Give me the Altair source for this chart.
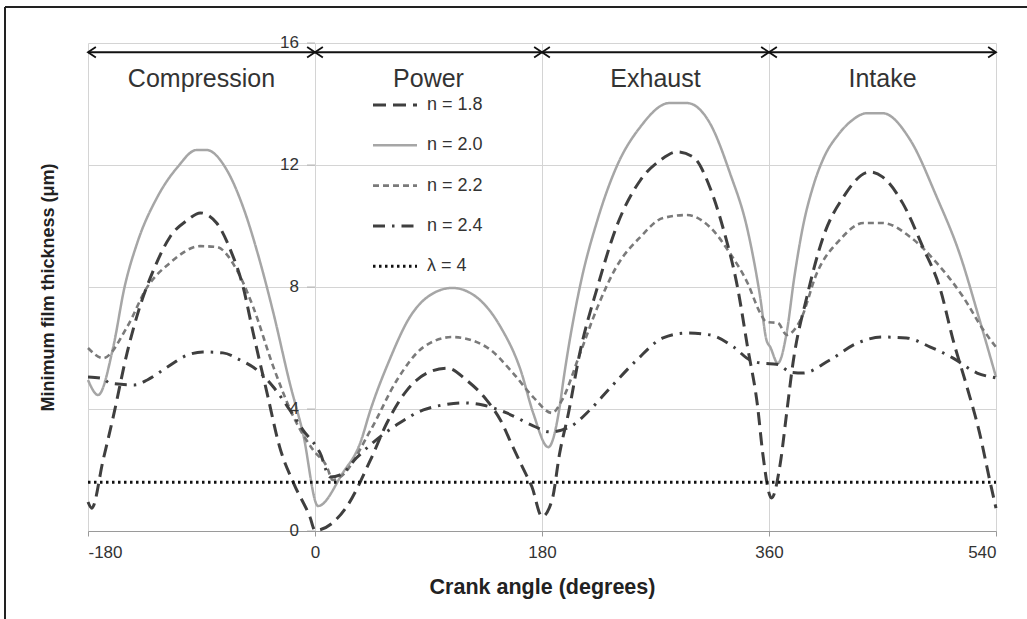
import altair as alt
import pandas as pd

# ---------------- data ----------------
SERIES = ["n = 1.8", "n = 2.0", "n = 2.2", "n = 2.4", "λ = 4"]

ANGLE_N18 = [-180, -177, -168, -160, -149, -139, -128, -115, -101, -91, -78, -67, -57, -49, -38, -28, -17, -4, 0,
             25, 44, 57, 73, 89, 105, 120, 136, 147, 157, 165, 172, 180, 188, 194, 201, 210, 224, 239, 258, 274,
             287, 300, 313, 324, 335, 343, 351, 355, 362, 369, 374, 379, 390, 403, 419, 440, 450, 466, 482, 496,
             506, 517, 527, 535, 540]
FILM_N18 = [0.95, 0.75, 2.33, 3.74, 5.84, 7.34, 8.56, 9.64, 10.2, 10.43, 10.1, 9.21, 8.0, 6.49, 4.52, 2.75, 1.57,
            0.46, 0.02, 0.79, 2.33, 3.54, 4.62, 5.18, 5.34, 4.95, 4.3, 3.64, 2.75, 2.05, 1.45, 0.47, 1.02, 2.55,
            3.87, 5.84, 8.0, 9.97, 11.5, 12.16, 12.43, 12.26, 11.28, 9.87, 8.0, 6.03, 4.07, 2.56, 1.08, 2.23, 3.87,
            5.5, 7.67, 9.64, 10.95, 11.77, 11.61, 10.75, 9.31, 7.9, 6.26, 4.72, 3.21, 1.67, 0.75]

ANGLE_N20 = [-180, -172, -160, -151, -141, -125, -109, -94, -86, -70, -57, -44, -33, -20, -9.5, 2.4, 22, 36, 44,
             59, 75, 94, 109, 128, 147, 163, 173, 185, 194, 197, 210, 224, 239, 258, 281, 295, 313, 329, 343, 353,
             358, 361, 367, 374, 380, 387, 395, 403, 415, 424, 438, 450, 472, 493, 511, 527, 540]
FILM_N20 = [4.95, 4.46, 6.03, 8.0, 9.44, 10.95, 11.93, 12.49, 12.49, 11.84, 10.62, 8.89, 7.15, 4.85, 3.2, 0.82,
            1.9, 2.9, 3.97, 5.6, 7.0, 7.8, 7.97, 7.67, 6.7, 5.28, 3.87, 2.75, 4.07, 4.95, 8.0, 10.2, 11.93, 13.25,
            14.03, 14.03, 13.38, 11.74, 9.87, 7.67, 6.26, 6.03, 5.5, 6.5, 8.3, 10.0, 11.3, 12.2, 13.0, 13.4, 13.7,
            13.7, 12.82, 10.95, 9.11, 6.92, 5.05]

ANGLE_N22 = [-180, -168, -149, -133, -115, -91, -78, -62, -49, -33, -17, -1.6, 9.5, 14, 20, 44, 65, 86, 109, 136,
             157, 173, 188, 196, 210, 224, 239, 258, 276, 295, 313, 329, 343, 353, 358, 367, 374, 385, 398, 416,
             435, 450, 472, 493, 514, 530, 540]
FILM_N22 = [6.0, 5.67, 6.69, 8.0, 8.79, 9.34, 9.31, 8.56, 7.34, 5.38, 3.74, 2.66, 2.1, 1.67, 1.77, 3.3, 4.95, 6.03,
            6.36, 6.03, 5.18, 4.39, 3.87, 4.3, 5.8, 7.34, 8.66, 9.64, 10.26, 10.36, 9.97, 9.11, 8.13, 7.15, 6.85,
            6.82, 6.43, 6.92, 8.46, 9.54, 10.1, 10.1, 9.64, 8.79, 7.67, 6.59, 6.03]

ANGLE_N24 = [-180, -168, -163, -143, -133, -117, -101, -89, -73, -59, -46, -33, -20, -9.5, 4, 12, 20, 33, 46, 67,
             86, 101, 117, 133, 152, 173, 186, 202, 218, 234, 255, 276, 295, 313, 332, 345, 355, 366, 378, 387,
             408, 430, 450, 469, 488, 506, 525, 540]
FILM_N24 = [5.05, 5.0, 4.85, 4.79, 4.95, 5.38, 5.77, 5.87, 5.84, 5.6, 5.28, 4.72, 3.97, 3.31, 2.56, 1.77, 1.84,
            2.4, 2.9, 3.54, 3.97, 4.13, 4.2, 4.13, 3.87, 3.45, 3.25, 3.41, 3.97, 4.69, 5.6, 6.33, 6.49, 6.43, 6.03,
            5.6, 5.5, 5.47, 5.2, 5.18, 5.6, 6.16, 6.36, 6.33, 6.03, 5.67, 5.18, 5.02]

ANGLE_LAMBDA = [-180, 540]
FILM_LAMBDA = [1.6, 1.6]

PHASES = ["Compression", "Power", "Exhaust", "Intake"]
PHASE_EDGES = [-180, 0, 180, 360, 540]
PHASE_ARROW_Y = 15.7
PHASE_LABEL_Y = 14.55

X_TICKS = [-180, 0, 180, 360, 540]
Y_TICKS = [0, 4, 8, 12, 16]

# ---------------- styling ----------------
FONT = "Liberation Sans"
TXT = "#333333"
GRID = "#d4d4d4"
W, H = 908, 488

STYLE = {
    "n = 1.8": dict(color="#3f3f3f", strokeDash=[13, 7], strokeWidth=3.0),
    "n = 2.0": dict(color="#a6a6a6", strokeDash=[1, 0], strokeWidth=2.5),
    "n = 2.2": dict(color="#7a7a7a", strokeDash=[6, 4], strokeWidth=2.6),
    "n = 2.4": dict(color="#3f3f3f", strokeDash=[12, 7, 2.5, 7], strokeWidth=3.0),
    "λ = 4": dict(color="#111111", strokeDash=[2.5, 3.5], strokeWidth=3.0),
}
DATA = {
    "n = 1.8": (ANGLE_N18, FILM_N18),
    "n = 2.0": (ANGLE_N20, FILM_N20),
    "n = 2.2": (ANGLE_N22, FILM_N22),
    "n = 2.4": (ANGLE_N24, FILM_N24),
    "λ = 4": (ANGLE_LAMBDA, FILM_LAMBDA),
}

XS = alt.Scale(domain=[-180, 540], nice=False, zero=False)
YS = alt.Scale(domain=[0, 16], nice=False)

XA = alt.Axis(values=X_TICKS, grid=True, gridColor=GRID, gridWidth=1, labelExpr="'' + datum.value",
              domainColor="#9a9a9a", domainWidth=1.2, tickColor="#9a9a9a", tickSize=5,
              labelFont=FONT, labelFontSize=17, labelColor=TXT, labelPadding=8,
              title="Crank angle (degrees)", titleFont=FONT, titleFontSize=21.5, titleFontWeight="bold",
              titleColor="#222222", titleX=W / 2, titleY=62, titleAlign="center", titleBaseline="alphabetic")
YA = alt.Axis(values=Y_TICKS, grid=True, gridColor=GRID, gridWidth=1, labels=False, ticks=False, domain=False,
              title="Minimum film thickness (μm)", titleFont=FONT, titleFontSize=18, titleFontWeight="bold",
              titleColor="#222222", titleAngle=-90, titleX=-40, titleY=H / 2, titleAlign="center",
              titleBaseline="middle")


def xe():
    return alt.X("angle:Q", scale=XS, axis=XA)


def ye():
    return alt.Y("film:Q", scale=YS, axis=YA)


layers = []
order = ["n = 2.0", "n = 2.2", "n = 2.4", "n = 1.8", "λ = 4"]
for name in order:
    xs, ys = DATA[name]
    df = pd.DataFrame({"angle": xs, "film": ys})
    st = STYLE[name]
    layers.append(
        alt.Chart(df).mark_line(interpolate="monotone", strokeCap="butt", **st).encode(x=xe(), y=ye())
    )

# y tick labels on the axis that crosses at x = 0
ylab = pd.DataFrame({"angle": [0] * len(Y_TICKS), "film": Y_TICKS, "lab": [str(v) for v in Y_TICKS]})
layers.append(alt.Chart(ylab).mark_text(align="right", baseline="middle", dx=-16, font=FONT, fontSize=17,
                                         color=TXT).encode(x=xe(), y=ye(), text="lab:N"))
layers.append(alt.Chart(ylab).mark_tick(orient="horizontal", size=8, thickness=1, color="#9a9a9a",
                                         xOffset=-4).encode(x=xe(), y=ye()))

# phase arrows
seg = pd.DataFrame({"angle": PHASE_EDGES[:-1], "angle2": PHASE_EDGES[1:], "film": [PHASE_ARROW_Y] * len(PHASES),
                    "phase": PHASES, "mid": [(a + b) / 2 for a, b in zip(PHASE_EDGES[:-1], PHASE_EDGES[1:])]})
layers.append(alt.Chart(seg).mark_rule(color="#111111", strokeWidth=2).encode(x=xe(), x2="angle2:Q", y=ye()))
layers.append(alt.Chart(seg).mark_point(shape="M1.5,-1L0,0L1.5,1", filled=False, size=110, color="#111111",
                                        strokeWidth=1.8, opacity=1).encode(x=xe(), y=ye()))
layers.append(alt.Chart(seg).mark_point(shape="M-1.5,-1L0,0L-1.5,1", filled=False, size=110, color="#111111",
                                        strokeWidth=1.8, opacity=1).encode(x=alt.X("angle2:Q", scale=XS, axis=XA),
                                                                           y=ye()))
lab_df = pd.DataFrame({"angle": seg["mid"], "film": [PHASE_LABEL_Y] * len(PHASES), "phase": PHASES})
layers.append(alt.Chart(lab_df).mark_text(font=FONT, fontSize=25, color=TXT, baseline="alphabetic",
                                          align="center").encode(x=xe(), y=ye(), text="phase:N"))

# manual legend inside the plot
LEG_X0, LEG_X1, LEG_TX, LEG_Y0, LEG_DY = 285, 329, 339, 62, 40.3
one = pd.DataFrame({"k": [0]})
for i, name in enumerate(SERIES):
    st = STYLE[name]
    yy = LEG_Y0 + i * LEG_DY
    layers.append(alt.Chart(one).mark_rule(strokeCap="butt", **st).encode(
        x=alt.value(LEG_X0), x2=alt.value(LEG_X1), y=alt.value(yy)))
    layers.append(alt.Chart(pd.DataFrame({"t": [name]})).mark_text(
        align="left", baseline="middle", font=FONT, fontSize=18, color=TXT).encode(
        x=alt.value(LEG_TX), y=alt.value(yy), text="t:N"))

# picture frame (top and left edges)
layers.append(alt.Chart(one).mark_rule(color="#222222", strokeWidth=2).encode(
    x=alt.value(-83), y=alt.value(-36), y2=alt.value(576)))
layers.append(alt.Chart(one).mark_rule(color="#222222", strokeWidth=2).encode(
    x=alt.value(-83), x2=alt.value(939), y=alt.value(-36)))

chart = alt.layer(*layers).properties(
    width=W, height=H,
    padding={"left": 88, "top": 43, "right": 31, "bottom": 88},
    autosize=alt.AutoSizeParams(type="none"),
    background="white",
).configure_view(stroke=None)

chart.save("out.html", embed_options={"renderer": "svg", "actions": False})
